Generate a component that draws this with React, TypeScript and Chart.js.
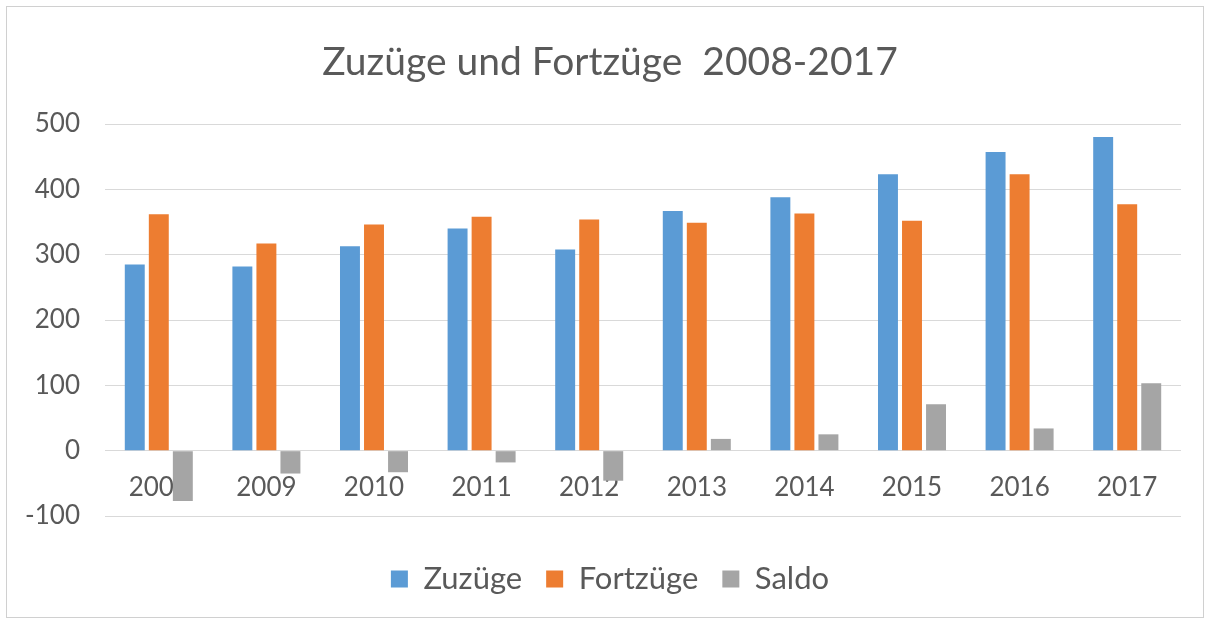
import { useEffect, useRef } from "react";
import { Chart, registerables } from "chart.js";

Chart.register(...registerables);

const years = ["2008", "2009", "2010", "2011", "2012", "2013", "2014", "2015", "2016", "2017"];
const zuzuege = [285, 282, 313, 340, 308, 367, 388, 423, 457, 480];
const fortzuege = [362, 317, 346, 358, 354, 349, 363, 352, 423, 377];
const saldo = [-77, -35, -33, -18, -46, 18, 25, 71, 34, 103];

const yMin = -100;
const yMax = 500;
const yStep = 100;

const TEXT = "#595959";
const FONT = "Lato";

export default function App() {
  const ref = useRef<HTMLCanvasElement>(null);

  useEffect(() => {
    if (!ref.current) return;
    const chart = new Chart(ref.current, {
      type: "bar",
      data: {
        labels: years,
        datasets: [
          { label: "Zuzüge", data: zuzuege, backgroundColor: "#5B9BD5", categoryPercentage: 0.67, barPercentage: 0.83 },
          { label: "Fortzüge", data: fortzuege, backgroundColor: "#ED7D31", categoryPercentage: 0.67, barPercentage: 0.83 },
          { label: "Saldo", data: saldo, backgroundColor: "#A5A5A5", categoryPercentage: 0.67, barPercentage: 0.83 },
        ],
      },
      options: {
        responsive: false,
        animation: false,
        layout: { padding: { left: 39, right: 31, top: 0, bottom: 17.5 } },
        plugins: {
          title: {
            display: true,
            text: "Zuzüge und Fortzüge  2008-2017",
            color: TEXT,
            font: { family: FONT, size: 39, weight: "normal" },
            padding: { top: 38.6, bottom: 38.6 },
          },
          legend: {
            position: "bottom",
            labels: {
              boxWidth: 17,
              boxHeight: 17,
              padding: 24,
              color: TEXT,
              font: { family: FONT, size: 31 },
            },
            title: { display: true, text: "", padding: { top: 0, bottom: 6.7 }, font: { size: 14 } },
          },
          tooltip: { enabled: false },
        },
        scales: {
          x: {
            position: { y: 0 },
            grid: { display: false, drawTicks: false },
            border: { display: false },
            ticks: { color: TEXT, font: { family: FONT, size: 26 }, padding: 21 },
          },
          y: {
            min: yMin,
            max: yMax,
            ticks: { stepSize: yStep, padding: 25, color: TEXT, font: { family: FONT, size: 26 } },
            grid: { color: "#d9d9d9", drawTicks: false, lineWidth: 1 },
            border: { display: false },
            afterFit: (s: any) => {
              s.width = 66;
              // let the tick labels extend left of the axis box without clipping
              s._computeLabelArea = () => undefined;
            },
          },
        },
      },
    });
    return () => chart.destroy();
  }, []);

  return (
    <div style={{ position: "fixed", left: 0, top: 0, width: 1212, height: 622, background: "#fff" }}>
      <canvas ref={ref} width={1212} height={622} style={{ display: "block" }} />
      <div
        style={{
          position: "absolute",
          left: 6,
          top: 6,
          width: 1196,
          height: 610,
          border: "1px solid #d0d0d0",
          pointerEvents: "none",
        }}
      />
    </div>
  );
}
